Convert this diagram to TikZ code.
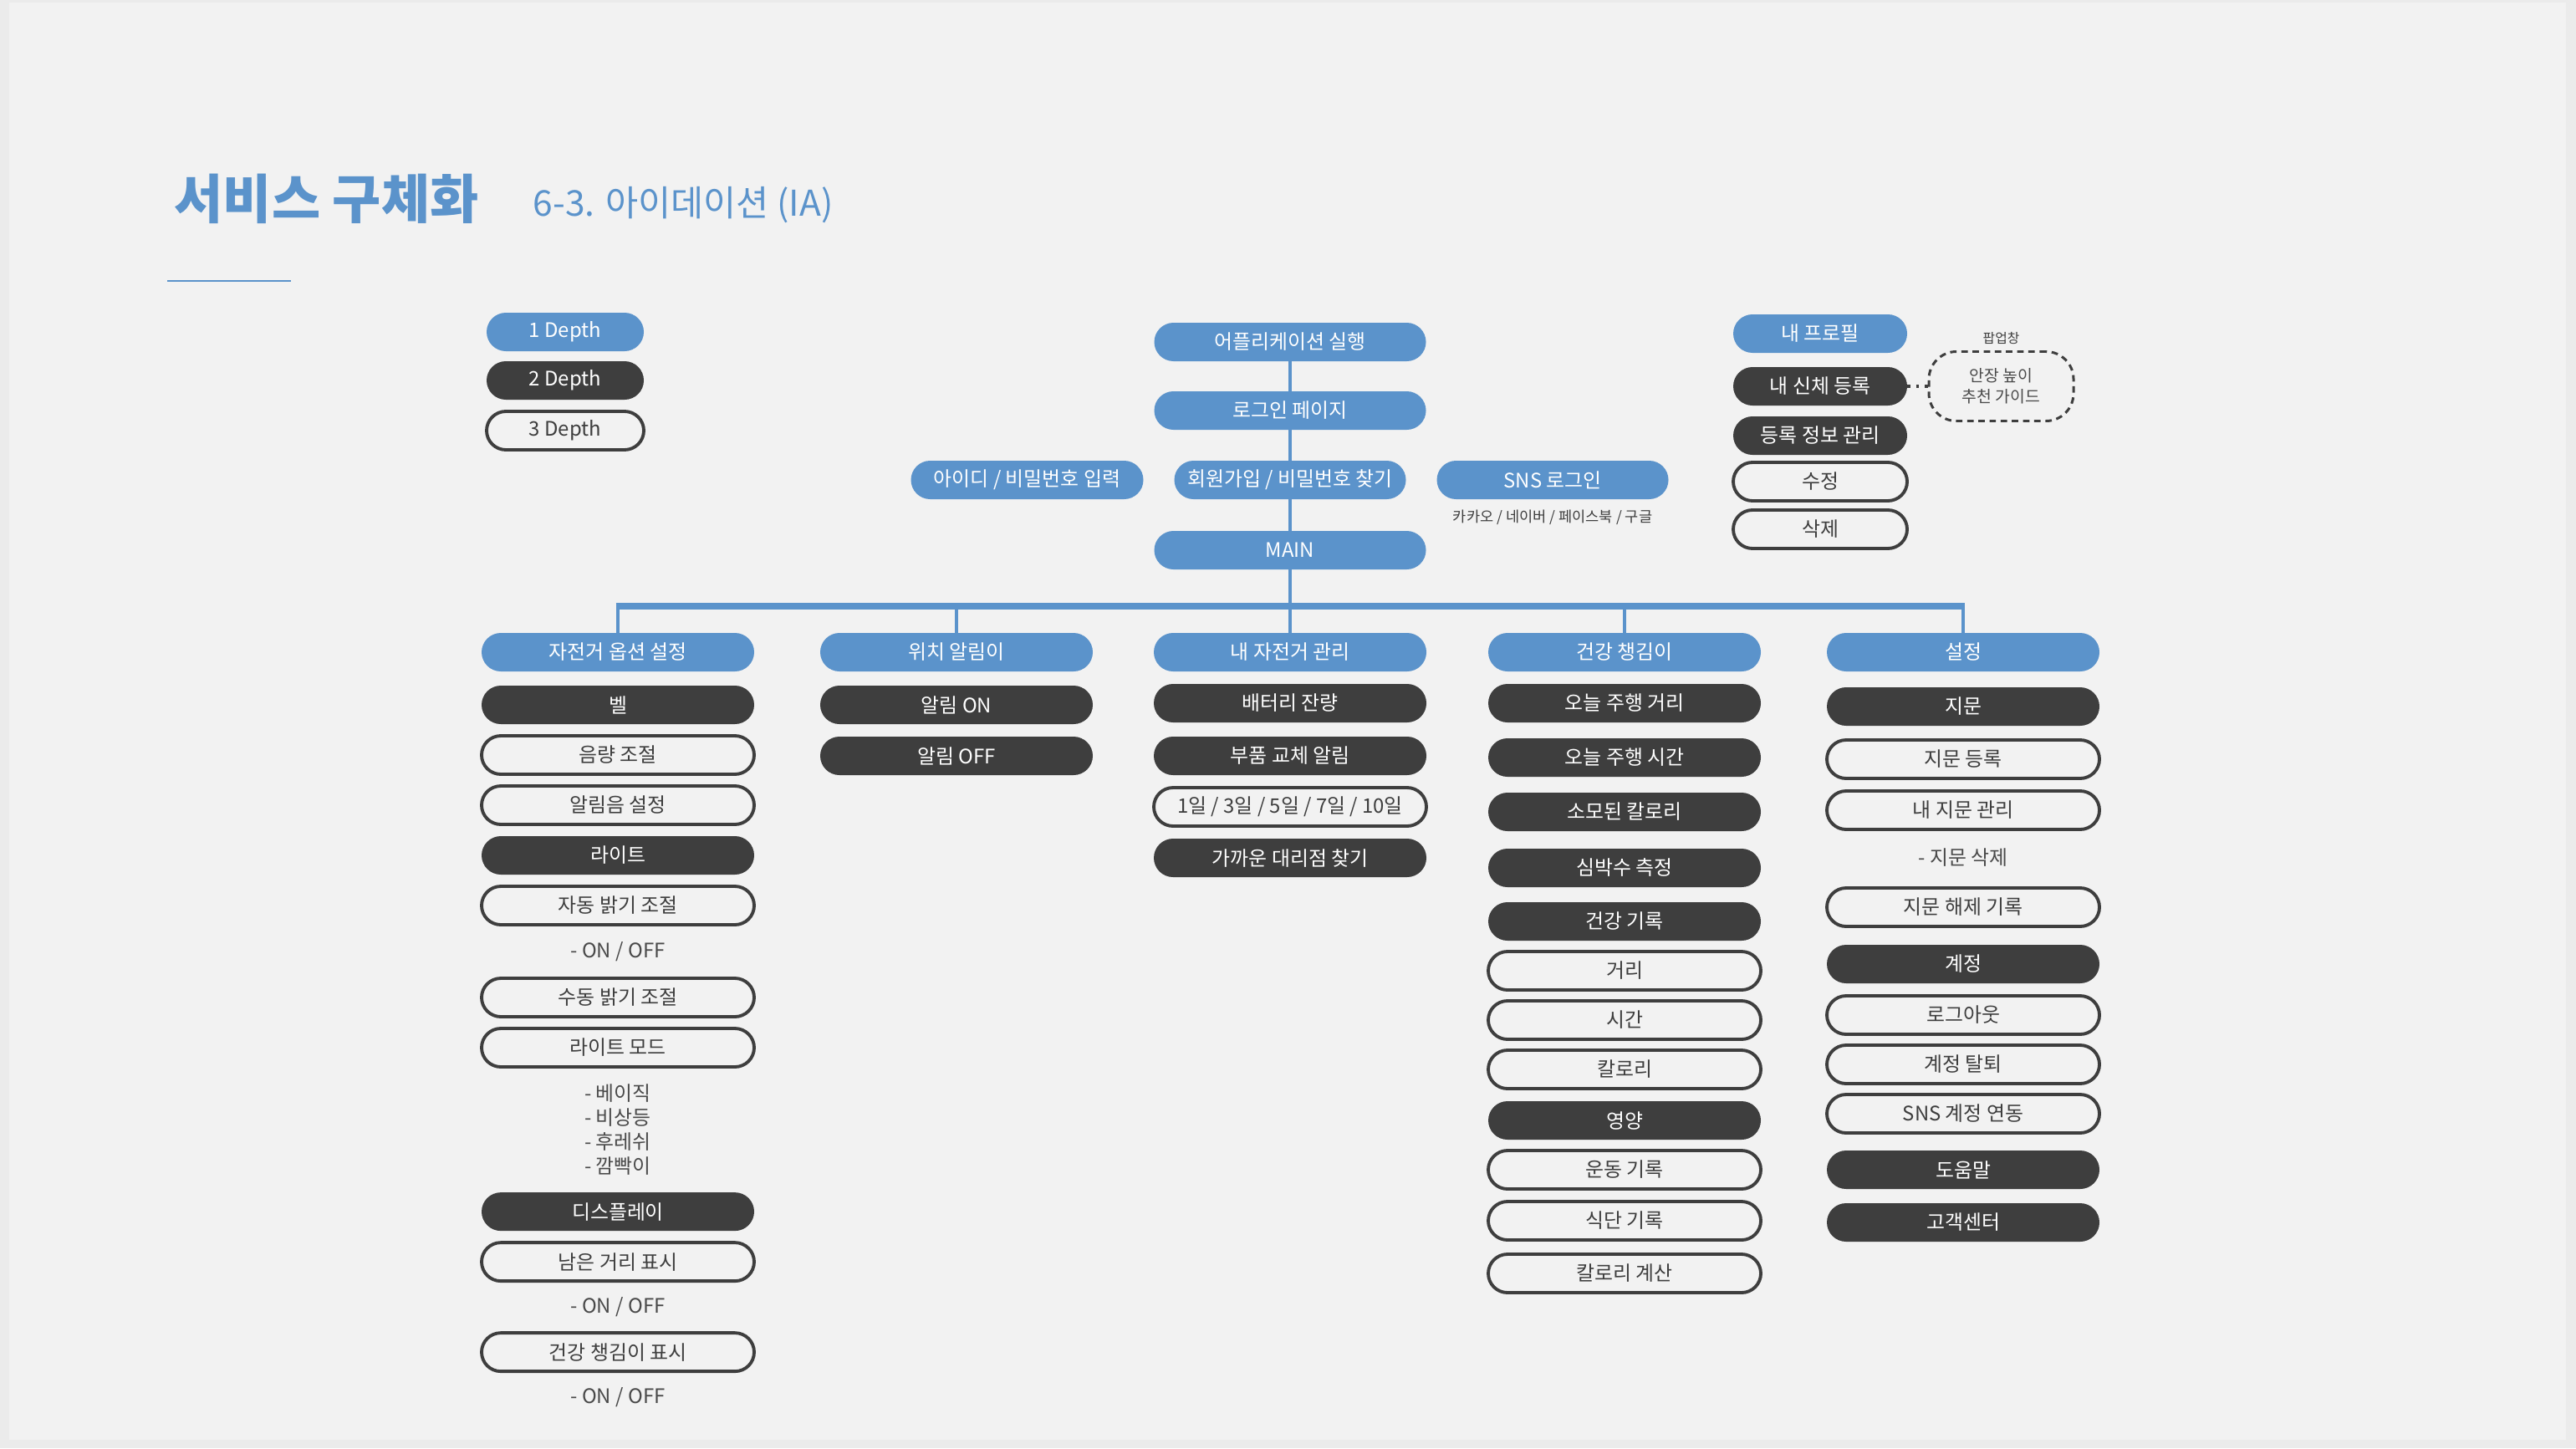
\documentclass[tikz,border=0pt]{standalone}
\usepackage{fontspec}
\setmainfont{Noto Sans CJK KR}
\usetikzlibrary{positioning, calc}
\definecolor{iablue}{HTML}{5B93CB}
\definecolor{iadark}{HTML}{3E3E3E}
\definecolor{iagray}{HTML}{4A4A4A}
\definecolor{iabg}{HTML}{F2F2F2}
\definecolor{iaframe}{HTML}{EBEBEB}
\tikzstyle{depthone} = [rectangle, rounded corners=2.3mm, minimum width=3.26cm, minimum height=0.46cm, inner sep=0pt, outer sep=0pt, text centered, text=white, fill=iablue, font=\fontsize{6.8}{8}\selectfont]
\tikzstyle{depthtwo} = [rectangle, rounded corners=2.3mm, minimum width=3.26cm, minimum height=0.46cm, inner sep=0pt, outer sep=0pt, text centered, text=white, fill=iadark, font=\fontsize{6.8}{8}\selectfont]
\tikzstyle{depththree} = [rectangle, rounded corners=2.3mm, minimum width=3.26cm, minimum height=0.46cm, inner sep=0pt, outer sep=0pt, text centered, text=iadark, fill=iabg, draw=iadark, line width=1.1pt, font=\fontsize{6.8}{8}\selectfont]
\tikzstyle{note} = [minimum height=0.36cm, inner sep=0pt, outer sep=0pt, text=iagray, font=\fontsize{6.8}{8.2}\selectfont]
\tikzstyle{tinynote} = [minimum height=0.24cm, inner sep=0pt, outer sep=0pt, text=iadark, font=\fontsize{5}{6}\selectfont]
\tikzstyle{popup} = [rectangle, rounded corners=3.3mm, minimum width=1.73cm, minimum height=0.83cm, inner sep=0pt, outer sep=0pt, align=center, text=iagray, draw=iadark, line width=0.85pt, dash pattern=on 2.2pt off 1.6pt, font=\fontsize{5.5}{7}\selectfont]
\tikzset{
	LINK/.style={iablue, line width=1.4pt},
	BUS/.style={iablue, line width=2.2pt},
	DOTLINK/.style={iadark, line width=1pt, dotted}
}

\begin{document}
\begin{tikzpicture}[node distance=0.14cm]
	\fill [iaframe] (0,0) rectangle (30.81,-17.32);
	\fill [iabg] (0.11,-0.03) rectangle (30.69,-17.22);
	\useasboundingbox (0,0) rectangle (30.81,-17.32);
	\node (title) [anchor=base west, inner sep=0pt, text=iablue, font=\fontsize{18}{21}\selectfont\bfseries] at (2.08,-2.62) {서비스 구체화};
	\node (subtitle) [anchor=base west, inner sep=0pt, text=iablue, font=\fontsize{12.1}{14}\selectfont] at (6.37,-2.58) {6-3. 아이데이션 (IA)};
	\draw [iablue, line width=0.6pt] (2.00,-3.36) -- (3.48,-3.36);
	\node (one) [depthone, minimum width=1.88cm] at (6.76,-3.97) {1 Depth};
	\node (two) [depthtwo, minimum width=1.88cm, below=0.12cm of one] {2 Depth};
	\node (three) [depththree, minimum width=1.88cm, below=0.14cm of two] {3 Depth};
	\node (app) [depthone, minimum width=3.25cm] at (15.43,-4.09) {어플리케이션 실행};
	\node (login) [depthone, minimum width=3.25cm, below=0.36cm of app] {로그인 페이지};
	\node (join) [depthone, minimum width=2.77cm, below=0.37cm of login] {회원가입 / 비밀번호 찾기};
	\node (idpw) [depthone, minimum width=2.78cm, left=0.37cm of join] {아이디 / 비밀번호 입력};
	\node (sns) [depthone, minimum width=2.77cm, right=0.37cm of join] {SNS 로그인};
	\node (snsnote) [tinynote, below=0.1cm of sns] {카카오 / 네이버 / 페이스북 / 구글};
	\node (main) [depthone, minimum width=3.25cm, below=0.38cm of join] {MAIN};
	\coordinate [below=0.44cm of main] (bus);
	\node (mybike) [depthone, below=0.76cm of main] {내 자전거 관리};
	\node (watch) [depthone, left=0.73cm of mybike] {위치 알림이};
	\node (bike) [depthone, left=0.79cm of watch] {자전거 옵션 설정};
	\node (health) [depthone, right=0.74cm of mybike] {건강 챙김이};
	\node (setting) [depthone, right=0.79cm of health] {설정};
	\draw [LINK] (app) -- (login);
	\draw [LINK] (login) -- (join);
	\draw [LINK] (join) -- (main);
	\draw [LINK] (main) -- (bus);
	\draw [BUS] ([xshift=-0.7pt]bike.north |- bus) -- ([xshift=0.7pt]setting.north |- bus);
	\foreach \n in {bike, watch, mybike, health, setting}
		\draw [LINK] (\n.north) -- (\n.north |- bus);
	\node (bell) [depthtwo, below=0.17cm of bike] {벨};
	\node (volume) [depththree, below=of bell] {음량 조절};
	\node (alarm) [depththree, below=of volume] {알림음 설정};
	\node (light) [depthtwo, below=of alarm] {라이트};
	\node (autolight) [depththree, below=of light] {자동 밝기 조절};
	\node (autonote) [note, below=of autolight] {- ON / OFF};
	\node (manual) [depththree, below=of autonote] {수동 밝기 조절};
	\node (lmode) [depththree, below=of manual] {라이트 모드};
	\node (modes) [note, align=left, below=0.21cm of lmode] {- 베이직\\- 비상등\\- 후레쉬\\- 깜빡이};
	\node (disp) [depthtwo, below=0.21cm of modes] {디스플레이};
	\node (remain) [depththree, below=of disp] {남은 거리 표시};
	\node (remainnote) [note, below=0.13cm of remain] {- ON / OFF};
	\node (healthshow) [depththree, below=0.13cm of remainnote] {건강 챙김이 표시};
	\node (healthnote) [note, below=0.13cm of healthshow] {- ON / OFF};
	\node (alarmon) [depthtwo, below=0.17cm of watch] {알림 ON};
	\node (alarmoff) [depthtwo, below=0.15cm of alarmon] {알림 OFF};
	\node (battery) [depthtwo, below=0.15cm of mybike] {배터리 잔량};
	\node (parts) [depthtwo, below=0.17cm of battery] {부품 교체 알림};
	\node (cycle) [depththree, below=0.15cm of parts] {1일 / 3일 / 5일 / 7일 / 10일};
	\node (dealer) [depthtwo, below=0.15cm of cycle] {가까운 대리점 찾기};
	\node (todaydist) [depthtwo, below=0.15cm of health] {오늘 주행 거리};
	\node (todaytime) [depthtwo, below=0.19cm of todaydist] {오늘 주행 시간};
	\node (burnt) [depthtwo, below=0.19cm of todaytime] {소모된 칼로리};
	\node (heart) [depthtwo, below=0.21cm of burnt] {심박수 측정};
	\node (record) [depthtwo, below=0.18cm of heart] {건강 기록};
	\node (dist) [depththree, below=0.13cm of record] {거리};
	\node (time) [depththree, below=0.13cm of dist] {시간};
	\node (cal) [depththree, below=0.13cm of time] {칼로리};
	\node (food) [depthtwo, below=0.15cm of cal] {영양};
	\node (exercise) [depththree, below=0.13cm of food] {운동 기록};
	\node (diet) [depththree, below=0.15cm of exercise] {식단 기록};
	\node (calcal) [depththree, below=0.17cm of diet] {칼로리 계산};
	\node (finger) [depthtwo, below=0.19cm of setting] {지문};
	\node (fingerreg) [depththree, below=0.17cm of finger] {지문 등록};
	\node (myfinger) [depththree, below=0.15cm of fingerreg] {내 지문 관리};
	\node (fingernote) [note, below=0.16cm of myfinger] {- 지문 삭제};
	\node (unlock) [depththree, below=0.18cm of fingernote] {지문 해제 기록};
	\node (account) [depthtwo, below=0.22cm of unlock] {계정};
	\node (logout) [depththree, below=0.15cm of account] {로그아웃};
	\node (leave) [depththree, below=0.13cm of logout] {계정 탈퇴};
	\node (snslink) [depththree, below=0.13cm of leave] {SNS 계정 연동};
	\node (help) [depthtwo, below=0.21cm of snslink] {도움말};
	\node (service) [depthtwo, below=0.17cm of help] {고객센터};
	\node (profile) [depthone, minimum width=2.08cm] at (21.77,-3.99) {내 프로필};
	\node (body) [depthtwo, minimum width=2.08cm, below=0.17cm of profile] {내 신체 등록};
	\node (info) [depthtwo, minimum width=2.08cm, below=0.13cm of body] {등록 정보 관리};
	\node (edit) [depththree, minimum width=2.08cm, below=0.09cm of info] {수정};
	\node (delete) [depththree, minimum width=2.08cm, below=0.11cm of edit] {삭제};
	\node (guide) [popup, right=0.26cm of body] {안장 높이\\추천 가이드};
	\node (guidelabel) [tinynote, font=\fontsize{4.5}{5.5}\selectfont, above=0.04cm of guide] {팝업창};
	\draw [DOTLINK] (body) -- (guide);
\end{tikzpicture}
\end{document}
